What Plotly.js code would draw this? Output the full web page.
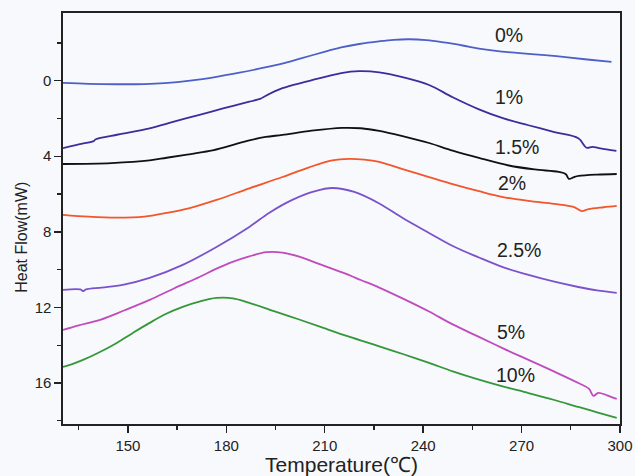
<!DOCTYPE html>
<html>
<head>
<meta charset="utf-8">
<script src="https://cdn.plot.ly/plotly-3.0.1.min.js"></script>
<style>
  html, body { margin: 0; padding: 0; background: #f8f9fc; }
  #chart { width: 635px; height: 476px; }
</style>
</head>
<body>
<div id="chart"></div>
<script>
// DSC heat-flow curves for different filler loadings (temperature in °C, heat flow in mW)
const labels = ['0%', '1%', '1.5%', '2%', '2.5%', '5%', '10%'];
const colors = ['#4d5fc8', '#3d2c9c', '#111111', '#f2562a', '#7a52cc', '#c04bbd', '#35973a'];

const t0 = [130.2, 138, 146.6, 155, 161.2, 169, 177, 184, 191, 197, 202.2, 210.4, 215, 220.5, 226.5, 231, 235.7, 241, 246.3, 252, 257, 264, 272, 278, 283.4, 290, 297.4];
const h0 = [0.12, 0.17, 0.19, 0.18, 0.13, 0.0, -0.2, -0.42, -0.67, -0.9, -1.15, -1.55, -1.76, -1.94, -2.08, -2.16, -2.19, -2.14, -2.02, -1.86, -1.7, -1.54, -1.42, -1.34, -1.25, -1.12, -0.99];

const t1 = [130.2, 135, 139.5, 140.2, 147, 156.6, 164, 171.8, 179, 187.0, 190.5, 191.5, 197.1, 204, 210.4, 215, 220.5, 226.6, 234, 241.8, 249, 257, 264.5, 272.1, 280, 287.3, 289.8, 291.6, 294, 298.9];
const h1 = [3.57, 3.37, 3.2, 3.1, 2.85, 2.52, 2.17, 1.81, 1.47, 1.11, 0.95, 0.85, 0.4, 0.07, -0.21, -0.4, -0.5, -0.44, -0.17, 0.23, 0.88, 1.52, 2.0, 2.36, 2.72, 3.05, 3.55, 3.5, 3.58, 3.72];

const t15 = [130.2, 145, 156.6, 161.8, 168, 174.9, 181, 187.0, 192, 197.1, 206, 215.3, 221, 226.6, 234, 241.8, 249, 257.0, 266.1, 274, 281.3, 283.5, 284.4, 286, 287.4, 293, 299];
const h15 = [4.41, 4.36, 4.22, 4.08, 3.92, 3.72, 3.45, 3.16, 2.98, 2.87, 2.65, 2.5, 2.52, 2.66, 2.95, 3.3, 3.7, 4.09, 4.49, 4.7, 4.83, 4.95, 5.2, 5.1, 5.04, 4.97, 4.94];

const t2 = [130.2, 138, 146.6, 155, 161.8, 168.8, 177, 187, 197.1, 205, 212.3, 217.4, 222, 226.6, 234, 241.8, 249, 257, 264, 272, 280, 285.8, 288.3, 290.4, 295, 299];
const h2 = [7.1, 7.2, 7.25, 7.2, 7.0, 6.74, 6.31, 5.7, 5.1, 4.6, 4.22, 4.14, 4.18, 4.3, 4.7, 5.1, 5.47, 5.85, 6.15, 6.36, 6.52, 6.68, 6.9, 6.8, 6.7, 6.63];

const t25 = [130.2, 135.5, 136.3, 137.2, 142, 148.4, 156.6, 166.7, 177, 187, 193, 200.1, 206.8, 212.3, 219, 226.6, 234, 241.8, 249, 257, 264.5, 272.1, 280, 287.3, 293, 299];
const h25 = [11.07, 11.05, 11.14, 11.05, 10.95, 10.81, 10.44, 9.75, 8.8, 7.74, 7.0, 6.31, 5.86, 5.68, 5.89, 6.5, 7.3, 8.06, 8.75, 9.36, 9.88, 10.28, 10.64, 10.92, 11.1, 11.23];

const t5 = [130.2, 135, 141.5, 149, 156.6, 164, 171.8, 177, 181.9, 187, 192.2, 197, 202.2, 208, 215.3, 221, 226.6, 234, 241.8, 249, 257, 264.5, 272.1, 280, 287.3, 290.5, 291.9, 293.4, 296, 299];
const h5 = [13.19, 12.95, 12.66, 12.15, 11.6, 11.0, 10.39, 9.95, 9.59, 9.3, 9.08, 9.1, 9.31, 9.68, 10.15, 10.55, 10.95, 11.55, 12.22, 12.9, 13.56, 14.18, 14.78, 15.4, 16.0, 16.3, 16.68, 16.52, 16.65, 16.84];

const t10 = [130.2, 133, 136.3, 141, 146.6, 151.5, 156.6, 161.5, 166.7, 172, 177, 182, 187, 194.5, 202.2, 209.8, 217.4, 226.6, 234, 241.8, 249, 257, 264.5, 272.1, 280, 287.3, 293, 299];
const h10 = [15.15, 15.0, 14.78, 14.4, 13.88, 13.35, 12.82, 12.35, 11.97, 11.68, 11.5, 11.52, 11.76, 12.2, 12.64, 13.1, 13.55, 14.06, 14.48, 14.94, 15.38, 15.82, 16.19, 16.53, 16.9, 17.27, 17.55, 17.85];

// curve label positions (temperature, heat flow)
const labelT = [266.1, 266.1, 268.5, 267.0, 269.1, 266.7, 268.2];
const labelH = [-2.42, 0.86, 3.51, 5.41, 8.96, 13.3, 15.57];

const xRange = [130.2, 300];
const yRange = [18.17, -3.58];

const temps = [t0, t1, t15, t2, t25, t5, t10];
const flows = [h0, h1, h15, h2, h25, h5, h10];

const traces = temps.map((t, i) => ({
  type: 'scatter',
  mode: 'lines',
  x: t,
  y: flows[i],
  name: labels[i],
  line: { color: colors[i], width: 1.8, shape: 'spline', smoothing: 1 },
  hoverinfo: 'skip'
}));

const family = 'Liberation Sans, Arial, sans-serif';

const annotations = labels.map((txt, i) => ({
  x: labelT[i], y: labelH[i], xref: 'x', yref: 'y',
  text: txt, showarrow: false,
  font: { family: family, size: 19.5, color: '#222' }
}));

// vertical axis title, placed as a rotated annotation
annotations.push({
  xref: 'paper', yref: 'paper',
  x: -0.074, y: 0.455, xanchor: 'center', yanchor: 'middle',
  text: 'Heat Flow(mW)', textangle: -90, showarrow: false,
  font: { family: family, size: 16, color: '#222' }
});

const font = { family: family, size: 15, color: '#222' };

const layout = {
  width: 635, height: 476,
  paper_bgcolor: '#f8f9fc',
  plot_bgcolor: '#f8f9fc',
  margin: { l: 63, r: 15, t: 13, b: 52 },
  showlegend: false,
  font: font,
  xaxis: {
    range: xRange, dtick: 30, tick0: 0,
    showline: true, mirror: true, linecolor: '#222', linewidth: 1.6,
    ticks: 'outside', ticklen: 7, tickwidth: 1.4, tickcolor: '#222',
    minor: { dtick: 15, tick0: 0, ticks: 'outside', ticklen: 4, tickwidth: 1.4, tickcolor: '#222', showgrid: false },
    showgrid: false, zeroline: false,
    tickfont: font,
    title: { text: 'Temperature(℃)', font: { family: family, size: 21, color: '#222' }, standoff: 1 }
  },
  yaxis: {
    range: yRange, dtick: 4, tick0: 0,
    showline: true, mirror: true, linecolor: '#222', linewidth: 1.6,
    ticks: 'outside', ticklen: 7, tickwidth: 1.4, tickcolor: '#222',
    minor: { dtick: 2, tick0: 0, ticks: 'outside', ticklen: 4, tickwidth: 1.4, tickcolor: '#222', showgrid: false },
    showgrid: false, zeroline: false,
    tickfont: font
  },
  xaxis2: {
    overlaying: 'x', side: 'top', anchor: 'y',
    range: xRange, dtick: 15, tick0: 0,
    ticks: 'inside', ticklen: 6, tickwidth: 1.4, tickcolor: '#222',
    showticklabels: false, showgrid: false, zeroline: false, showline: false
  },
  yaxis2: {
    overlaying: 'y', side: 'right', anchor: 'x',
    range: yRange, dtick: 2.5, tick0: 0,
    ticks: 'inside', ticklen: 5, tickwidth: 1.4, tickcolor: '#222',
    showticklabels: false, showgrid: false, zeroline: false, showline: false
  },
  annotations: annotations
};

Plotly.newPlot('chart', traces, layout, { staticPlot: true, displayModeBar: false });
</script>
</body>
</html>
